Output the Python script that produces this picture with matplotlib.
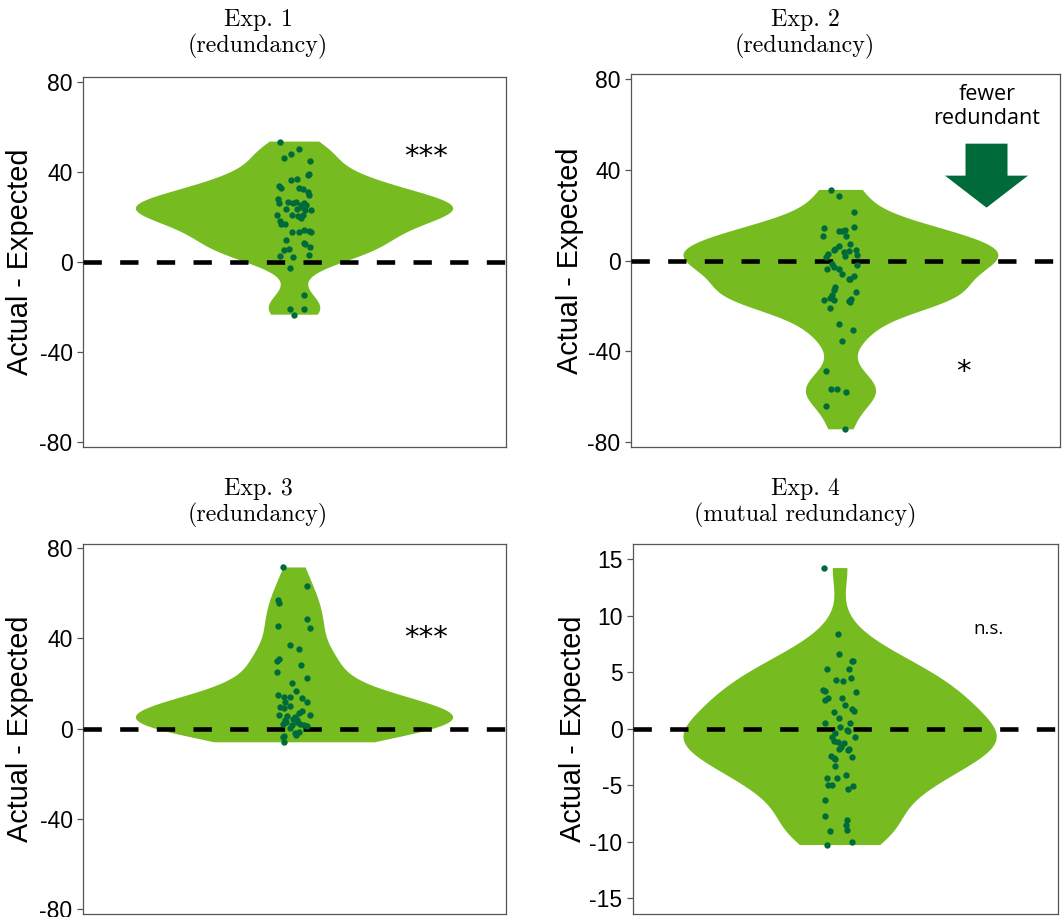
import matplotlib
matplotlib.use("Agg")
import matplotlib.pyplot as plt
import numpy as np

plt.rcParams['axes.unicode_minus'] = False

# ---- data: actual - expected, one value per participant
exp1_y = [53.5, 46.1, 47.9, 50.4, 44.7, 38.8, 39.3, 36.3, 36.9, 33.9, 33.0, 33.0, 32.4, 31.0,
          29.9, 28.0, 26.4, 26.8, 26.1, 26.5, 26.1, 25.5, 25.5, 23.4, 23.4, 24.3, 23.1, 23.1,
          20.9, 20.9, 20.4, 19.4, 20.9, 18.2, 16.9, 17.0, 13.2, 13.2, 14.2, 13.9, 13.5, 9.6,
          8.3, 7.9, 6.7, 5.3, 5.8, 2.5, 2.4, 3.1, -2.5, -14.8, -21.0, -21.0, -23.4]
exp1_jit = [-0.041, -0.031, -0.009, 0.013, 0.043, 0.037, 0.040, -0.011, 0.007, -0.043, -0.038,
            0.014, 0.024, 0.037, 0.042, -0.048, -0.044, -0.018, -0.003, 0.004, 0.026, 0.034,
            0.019, -0.024, 0.008, 0.021, 0.029, 0.046, -0.007, -0.050, 0.011, 0.018, 0.024,
            -0.042, -0.038, -0.028, -0.006, 0.012, 0.026, 0.041, 0.047, -0.024, 0.026, 0.029,
            0.045, -0.031, -0.016, -0.041, -0.004, 0.041, -0.014, 0.026, -0.013, 0.027, -0.002]

exp2_y = [31.1, 28.3, 21.2, 14.4, 10.7, 13.2, 12.9, 13.5, 10.8, 14.9, 7.2, 6.2, 4.7, 5.1, 3.7,
          4.1, 4.7, 2.5, 2.9, 1.5, 2.2, -1.5, -2.9, -3.7, -3.7, -5.9, -8.1, -7.0, -8.1, -1.9,
          -11.7, -12.9, -14.1, -15.4, -16.6, -17.6, -17.6, -18.0, -16.8, -18.3, -20.8, -28.1,
          -30.5, -35.5, -48.6, -56.8, -56.8, -57.9, -64.2, -74.4]
exp2_jit = [-0.028, -0.007, 0.036, -0.048, -0.050, -0.007, 0.003, 0.012, 0.015, 0.036, 0.025,
            -0.005, -0.021, -0.016, 0.008, 0.022, 0.044, 0.046, -0.037, -0.042, 0.012, -0.026,
            -0.019, -0.040, -0.007, 0.003, 0.022, 0.036, 0.027, 0.046, -0.016, -0.019, 0.044,
            -0.026, -0.030, -0.048, -0.021, 0.022, 0.029, 0.027, -0.030, -0.007, 0.034, 0.003,
            -0.043, -0.028, -0.010, 0.015, -0.043, 0.012]

exp3_y = [71.4, 63.3, 57.0, 55.6, 48.6, 44.6, 45.5, 36.9, 35.3, 29.8, 30.7, 28.3, 25.2, 22.2,
          20.4, 16.6, 14.8, 13.9, 14.2, 13.6, 11.7, 11.6, 9.6, 8.9, 9.9, 7.9, 6.7, 6.1, 5.9,
          5.5, 4.0, 5.2, 4.4, 4.0, 2.2, 3.0, 1.5, 3.0, 1.9, 1.2, 1.5, 0.4, -1.5, -3.0, -1.9,
          -3.4, -3.7, -6.1]
exp3_jit = [-0.032, 0.036, -0.047, -0.043, 0.036, 0.043, -0.047, -0.013, 0.014, -0.050, -0.043,
            0.018, -0.050, 0.035, -0.006, 0.003, -0.046, -0.029, -0.012, 0.022, 0.035, -0.026,
            -0.040, -0.031, -0.014, 0.021, 0.013, -0.045, 0.043, -0.020, -0.026, 0.002, -0.003,
            0.008, -0.033, -0.024, -0.008, 0.007, 0.016, 0.035, 0.026, -0.012, 0.013, 0.005,
            0.002, -0.029, -0.033, -0.031]

exp4_y = [14.2, 8.4, 6.6, 6.0, 6.0, 5.3, 5.3, 4.3, 4.2, 4.5, 3.4, 3.3, 3.2, 2.7, 2.7, 2.5, 2.1,
          1.7, 1.6, 1.5, 0.9, 0.5, 0.5, 0.15, -0.1, -0.2, -0.4, -0.7, -0.7, -1.1, -1.2, -1.3,
          -1.6, -1.8, -1.8, -1.9, -2.4, -2.6, -2.7, -2.5, -3.3, -4.1, -4.4, -4.4, -5.0, -5.0,
          -5.1, -5.3, -6.3, -7.7, -8.1, -8.5, -9.0, -9.1, -10.0, -10.3]
exp4_jit = [-0.045, -0.006, -0.003, 0.033, 0.037, -0.039, 0.025, -0.012, 0.009, 0.030, -0.049,
            -0.044, 0.047, 0.006, -0.035, -0.042, 0.015, 0.035, 0.040, -0.017, -0.004, -0.044,
            0.028, 0.001, 0.020, 0.023, -0.015, -0.022, 0.044, -0.018, -0.006, 0.010, 0.004,
            -0.003, 0.026, 0.023, -0.027, -0.018, -0.015, 0.034, -0.015, 0.016, -0.039, -0.009,
            -0.036, -0.024, 0.037, 0.023, -0.042, -0.042, 0.020, 0.018, 0.020, -0.030, 0.034,
            -0.037]

titles = ["Exp. 1\n(redundancy)", "Exp. 2\n(redundancy)",
          "Exp. 3\n(redundancy)", "Exp. 4\n(mutual redundancy)"]
signif = ["***", "*", "***", "n.s."]

violin_col = "#76bc21"
dot_col = "#006b3a"
arrow_col = "#006b3a"


def nrd0(kde):
    # R's default bandwidth (bw.nrd0), as a factor of the sample sd
    d = kde.dataset[0]
    sd = np.std(d, ddof=1)
    iqr = np.subtract(*np.percentile(d, [75, 25]))
    return 0.9 * min(sd, iqr / 1.34) * len(d) ** -0.2 / sd


def px_rect(l, r, t, b):
    return [l / 1063, 1 - b / 917, (r - l) / 1063, (b - t) / 917]


fig = plt.figure(figsize=(10.63, 9.17), dpi=100)

panels = [
    (exp1_y, exp1_jit, px_rect(83, 506, 77, 447), (0.4, 1.6), (-82.2, 82.2), [-80, -40, 0, 40, 80]),
    (exp2_y, exp2_jit, px_rect(631, 1060, 74, 447), (0.4, 1.626), (-82.2, 82.2), [-80, -40, 0, 40, 80]),
    (exp3_y, exp3_jit, px_rect(83, 506, 544, 914), (0.4, 1.6), (-82.2, 81.8), [-80, -40, 0, 40, 80]),
    (exp4_y, exp4_jit, px_rect(633, 1058, 544, 914), (0.405, 1.626), (-16.4, 16.33), [-15, -10, -5, 0, 5, 10, 15]),
]

axes = []
for i, (yv, jit, rect, xl, yl, yt) in enumerate(panels):
    ax = fig.add_axes(rect)
    parts = ax.violinplot([yv], positions=[1], widths=0.9, showextrema=False,
                          bw_method=nrd0, points=300)
    for b in parts['bodies']:
        b.set_facecolor(violin_col)
        b.set_edgecolor('none')
        b.set_alpha(1)
    ax.axhline(0, color='black', lw=3.3, dashes=(4.0, 4.0), zorder=3)
    ax.scatter(1 + np.array(jit), yv, s=21, color=dot_col, linewidths=0, zorder=4)
    ax.set_xlim(*xl)
    ax.set_ylim(*yl)
    ax.set_xticks([])
    ax.set_yticks(yt)
    ax.set_yticklabels([str(t) for t in yt], fontfamily='Liberation Sans', fontsize=16.5)
    ax.tick_params(axis='y', length=4.5, width=0.9, color='#555555', pad=3)
    for s in ax.spines.values():
        s.set_color('#555555')
        s.set_linewidth(0.9)
    ax.set_ylabel("Actual - Expected", fontfamily='Liberation Sans', fontsize=20.8, va='center')
    axes.append(ax)

axes[0].yaxis.set_label_coords((20 - 83) / 423, 0.5)
axes[2].yaxis.set_label_coords((20 - 83) / 423, 0.5)
axes[1].yaxis.set_label_coords((570 - 631) / 429, 0.5)
axes[3].yaxis.set_label_coords((573 - 633) / 425, 0.5)

# panel titles
for (x, y), t in zip([(258, 33.5), (805, 33.5), (258, 502.5), (805, 502.5)], titles):
    fig.text(x / 1063, 1 - y / 917, t, ha='center', va='center', fontfamily='cmr10',
             fontsize=17.2, linespacing=1.15)

# significance marks
axes[0].text(1.374, 43.0, signif[0], ha='center', va='baseline', fontfamily='DejaVu Sans', fontsize=21)
axes[1].text(1.35, -52.5, signif[1], ha='center', va='baseline', fontfamily='DejaVu Sans', fontsize=21)
axes[2].text(1.374, 36.8, signif[2], ha='center', va='baseline', fontfamily='DejaVu Sans', fontsize=21)
axes[3].text(1.425, 8.8, signif[3], ha='center', va='center', fontfamily='Open Sans', fontsize=13.5)

# "fewer redundant" arrow in Exp. 2
axes[1].text(1.417, 68.0, "fewer\nredundant", ha='center', va='center', fontfamily='Open Sans',
             fontsize=15.5, linespacing=1.2)
axes[1].arrow(1.416, 51.5, 0, -28.2, width=0.12, head_width=0.237, head_length=14.1,
              length_includes_head=True, color=arrow_col, lw=0, zorder=5)

fig.savefig("out.png", dpi=100)
